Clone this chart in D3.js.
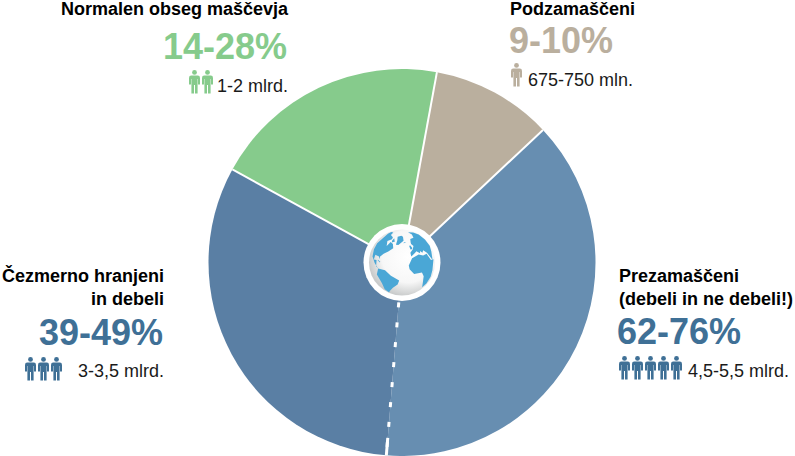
<!DOCTYPE html>
<html>
<head>
<meta charset="utf-8">
<script src="https://cdnjs.cloudflare.com/ajax/libs/d3/7.8.5/d3.min.js"></script>
<style>
html, body { margin: 0; padding: 0; background: #fff; }
svg { display: block; }
text { font-family: "Liberation Sans", Arial, sans-serif; }
</style>
</head>
<body>
<script>
// values, clockwise from the tan slice
var categories = ["Podzamaščeni", "Prezamaščeni", "Čezmerno hranjeni", "Normalen obseg maščevja"];
var shares = [10.1, 38.3, 31.7, 19.9];
var ranges = ["9-10%", "62-76%", "39-49%", "14-28%"];
var people = ["675-750 mln.", "4,5-5,5 mlrd.", "3-3,5 mlrd.", "1-2 mlrd."];
var icons = [1, 5, 3, 2];

var sliceColors = ["#baaf9e", "#678eb1", "#5a7fa4", "#86cb8c"];
var textColors = ["#baaf9e", "#3f7096", "#3f7096", "#86cb8c"];

// rough continent outlines for the globe, [lon, lat]
var land = [
	[[-165,62],[-155,71],[-125,70],[-95,72],[-85,68],[-94,60],[-80,52],[-78,62],[-64,60],[-56,52],[-66,44],[-75,37],[-81,30],[-80,25],[-84,29],[-97,27],[-96,18],[-87,21],[-84,10],[-78,8],[-90,14],[-105,20],[-115,30],[-124,40],[-130,55],[-150,60]],
	[[-78,8],[-62,10],[-50,2],[-35,-6],[-38,-15],[-48,-25],[-58,-38],[-66,-48],[-72,-53],[-74,-40],[-71,-20],[-81,-5]],
	[[-52,60],[-43,60],[-22,70],[-20,80],[-40,83],[-70,78],[-55,70]],
	[[-16,15],[-17,22],[-8,34],[10,37],[20,32],[32,31],[38,16],[51,11],[40,-5],[38,-18],[30,-30],[19,-35],[13,-20],[12,-5],[8,4],[-8,5]],
	[[-9,37],[-9,44],[0,49],[8,55],[4,60],[6,63],[18,70],[40,68],[70,72],[100,76],[100,50],[70,30],[55,25],[45,13],[35,32],[28,40],[22,37],[18,42],[15,38],[8,44],[3,42]],
	[[-6,50],[-2,50],[1,52],[-2,58],[-6,57]],
	[[-84,22],[-76,20],[-78,22],[-83,23]],
	[[-24,64],[-14,65],[-16,66],[-22,66]],
	[[-80,72],[-68,68],[-62,66],[-72,62],[-78,66]]
];

var width = 795, height = 456;
var cx = 402, cy = 262.5, radius = 193.5;
var startDeg = 10.4;

// where each label block sits: [heading lines, x, anchor, baselines, icon x/y, people x]
var layout = [
	{ lines: ["Podzamaščeni"], x: 510, anchor: "start", headY: [15], rangeX: 509, rangeY: 53, iconX: 511, iconY: 63, peopleX: 528, peopleAnchor: "start", peopleY: 86 },
	{ lines: ["Prezamaščeni", "(debeli in ne debeli!)"], x: 619, anchor: "start", headY: [282, 305], rangeX: 617, rangeY: 344, iconX: 619, iconY: 356, peopleX: 688, peopleAnchor: "start", peopleY: 377 },
	{ lines: ["Čezmerno hranjeni", "in debeli"], x: 164, anchor: "end", headY: [282, 305], rangeX: 163, rangeY: 345, iconX: 25, iconY: 357, peopleX: 164, peopleAnchor: "end", peopleY: 377 },
	{ lines: ["Normalen obseg maščevja"], x: 288, anchor: "end", headY: [15], rangeX: 287, rangeY: 59, iconX: 189, iconY: 70, peopleX: 288, peopleAnchor: "end", peopleY: 92 }
];

var svg = d3.select("body").append("svg")
	.attr("width", width)
	.attr("height", height)
;

var defs = svg.append("defs");

// the sphere itself is white, going grey towards the lower left
var seaGrad = defs.append("radialGradient")
	.attr("id", "seaGrad")
	.attr("gradientUnits", "userSpaceOnUse")
	.attr("cx", 6)
	.attr("cy", -6)
	.attr("r", 40)
;
seaGrad.append("stop").attr("offset", "0%").attr("stop-color", "#ffffff");
seaGrad.append("stop").attr("offset", "65%").attr("stop-color", "#f7f7f7");
seaGrad.append("stop").attr("offset", "100%").attr("stop-color", "#c9cbcb");

var pie = d3.pie()
	.sort(null)
	.startAngle(startDeg * Math.PI / 180)
	.endAngle((startDeg + 360) * Math.PI / 180)
	.value(function(d) { return d; })
;
var arc = d3.arc().innerRadius(0).outerRadius(radius);
var arcs = pie(shares);

var chart = svg.append("g").attr("transform", "translate(" + cx + "," + cy + ")");

chart.selectAll("path.slice")
	.data(arcs)
	.enter().append("path")
		.attr("class", "slice")
		.attr("d", arc)
		.style("fill", function(d, i) { return sliceColors[i]; })
;

// white separators, dashed between the two blue slices
function edge(angle, r) {
	return [Math.sin(angle) * r, -Math.cos(angle) * r];
}
chart.selectAll("line.sep")
	.data(arcs)
	.enter().append("line")
		.attr("class", "sep")
		.attr("x1", 0)
		.attr("y1", 0)
		.attr("x2", function(d) { return edge(d.startAngle, radius)[0]; })
		.attr("y2", function(d) { return edge(d.startAngle, radius)[1]; })
		.style("stroke", "#fff")
		.style("stroke-width", function(d, i) { return i == 2 ? 3 : 2; })
		.style("stroke-dasharray", function(d, i) { return i == 2 ? "5 15" : null; })
;
// the dashed line ends in a longer piece at the rim
chart.append("line")
	.attr("x1", edge(arcs[2].startAngle, 176)[0])
	.attr("y1", edge(arcs[2].startAngle, 176)[1])
	.attr("x2", edge(arcs[2].startAngle, radius)[0])
	.attr("y2", edge(arcs[2].startAngle, radius)[1])
	.style("stroke", "#fff")
	.style("stroke-width", 3)
;

// globe in the middle
var hub = chart.append("g");
hub.append("circle").attr("r", 38.5).style("fill", "#fff");
hub.append("circle").attr("r", 33).style("fill", "url(#seaGrad)");

var projection = d3.geoOrthographic()
	.scale(32.5)
	.translate([0, 0])
	.rotate([30, -28, 0])
	.clipAngle(90)
;
var geoPath = d3.geoPath(projection);

hub.selectAll("path.land")
	.data(land)
	.enter().append("path")
		.attr("class", "land")
		.attr("d", function(d) {
			var ring = d.concat([d[0]]);
			var shape = { type: "Polygon", coordinates: [ring] };
			if (d3.geoArea(shape) > 2 * Math.PI) {
				shape.coordinates = [ring.slice().reverse()];
			}
			return geoPath(shape);
		})
		.style("fill", "#4aa7d6")
;

// little person icon
function drawPerson(g, x, y, color) {
	var p = g.append("g")
		.attr("transform", "translate(" + x + "," + y + ")")
		.style("fill", color)
	;
	p.append("circle").attr("cx", 5.5).attr("cy", 2.4).attr("r", 2.4);
	p.append("path").attr("d",
		"M2.2,5.6 L8.8,5.6 Q11,5.6 11,8 L11,14.5 L9,14.5 L9,9 L8.6,9 L8.6,23.5 L6,23.5 L6,15 L5,15 L5,23.5 L2.4,23.5 L2.4,9 L2,9 L2,14.5 L0,14.5 L0,8 Q0,5.6 2.2,5.6 Z");
}

var labels = svg.selectAll("g.label")
	.data(layout)
	.enter().append("g")
		.attr("class", "label")
;

labels.each(function(d, i) {
	var g = d3.select(this);
	d.lines.forEach(function(line, k) {
		g.append("text")
			.attr("x", d.x)
			.attr("y", d.headY[k])
			.attr("text-anchor", d.anchor)
			.style("font-size", "18px")
			.style("font-weight", "bold")
			.style("fill", "#000")
			.text(line)
		;
	});
	g.append("text")
		.attr("x", d.rangeX)
		.attr("y", d.rangeY)
		.attr("text-anchor", d.anchor)
		.style("font-size", "36px")
		.style("font-weight", "bold")
		.style("fill", textColors[i])
		.text(ranges[i])
	;
	g.append("text")
		.attr("x", d.peopleX)
		.attr("y", d.peopleY)
		.attr("text-anchor", d.peopleAnchor)
		.style("font-size", "18px")
		.style("fill", "#1a1a1a")
		.text(people[i])
	;
	d3.range(icons[i]).forEach(function(n) {
		drawPerson(g, d.iconX + n * 13, d.iconY, textColors[i]);
	});
});
</script>
</body>
</html>
